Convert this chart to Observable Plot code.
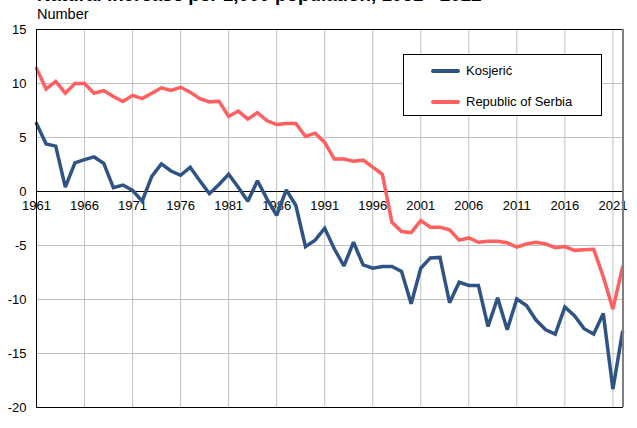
<!DOCTYPE html>
<html><head><meta charset="utf-8">
<script src="https://cdn.jsdelivr.net/npm/d3@7"></script>
<script src="https://cdn.jsdelivr.net/npm/@observablehq/plot@0.6"></script>
<style>
body{margin:0;background:#fff;font-family:"Liberation Sans",Arial,sans-serif;}
#wrap{position:relative;width:637px;height:428px;overflow:hidden;}
#title{position:absolute;left:37px;top:-14px;font-size:18.8px;line-height:1;font-weight:bold;color:#000;white-space:nowrap;}
#sub{position:absolute;left:37px;top:7px;font-size:14.5px;line-height:1;color:#000;}
#legend{position:absolute;left:403px;top:54px;width:199px;height:62px;border:1px solid #000;background:#fff;box-sizing:border-box;font-size:13px;}
.li{position:absolute;left:27px;display:flex;align-items:center;}
.sw{width:29px;height:4px;margin-right:6px;border-radius:2px;}
</style></head>
<body><div id="wrap">
<div id="chart"></div>
<div id="title">Natural increase per 1,000 population, 1961 - 2022</div>
<div id="sub">Number</div>
<div id="legend">
<div class="li" style="top:8px"><div class="sw" style="background:#2E5384"></div><span>Kosjerić</span></div>
<div class="li" style="top:39px"><div class="sw" style="background:#FF5F5F"></div><span>Republic of Serbia</span></div>
</div>
</div>
<script>
const years = d3.range(1961, 2023);
const kosjeric = [6.3,4.4,4.2,0.4,2.65,2.95,3.2,2.6,0.35,0.6,0.1,-0.9,1.4,2.55,1.9,1.5,2.25,1.0,-0.2,0.65,
  1.6,0.4,-0.9,1.0,-0.7,-2.2,0.15,-1.3,-5.1,-4.5,-3.4,-5.3,-6.9,-4.7,-6.8,-7.1,-6.95,-6.95,-7.4,-10.4,
  -7.1,-6.15,-6.1,-10.3,-8.4,-8.7,-8.7,-12.5,-9.85,-12.8,-9.95,-10.55,-11.9,-12.8,-13.2,-10.7,-11.5,-12.7,-13.2,-11.3,
  -18.3,-13.0];
const serbia = [11.4,9.5,10.2,9.1,10.0,10.0,9.1,9.35,8.8,8.33,8.9,8.6,9.1,9.6,9.35,9.65,9.2,8.6,8.3,8.35,
  6.95,7.45,6.7,7.3,6.55,6.2,6.3,6.3,5.1,5.4,4.55,3.0,3.0,2.8,2.9,2.25,1.6,-2.85,-3.7,-3.8,
  -2.7,-3.3,-3.3,-3.55,-4.5,-4.3,-4.7,-4.6,-4.6,-4.75,-5.15,-4.85,-4.7,-4.85,-5.2,-5.1,-5.45,-5.4,-5.35,-7.9,
  -10.9,-7.0];
const xTicks = d3.range(1961, 2022, 5);
const yTicks = [-20,-15,-10,-5,0,5,10,15];
const seriesNames = ["Kosjerić","Republic of Serbia"];
const colors = ["#2E5384","#FF5F5F"];

const data = [];
years.forEach((y,i)=>{
  data.push({year:y, value:kosjeric[i], series:seriesNames[0]});
  data.push({year:y, value:serbia[i], series:seriesNames[1]});
});

const chart = Plot.plot({
  width:637, height:428,
  marginLeft:36, marginRight:15, marginTop:29, marginBottom:21,
  style:{fontFamily:'"Liberation Sans",Arial,sans-serif', fontSize:"13px", color:"#000", background:"transparent"},
  x:{domain:[1961,2022], axis:null},
  y:{domain:[-20,15], ticks:yTicks, label:null},
  color:{domain:seriesNames, range:colors},
  marks:[
    Plot.ruleX(xTicks, {stroke:"#c0c0c0", strokeWidth:1}),
    Plot.ruleY(yTicks.filter(d=>d!==0), {stroke:"#c0c0c0", strokeWidth:1}),
    Plot.ruleY([0], {stroke:"#000", strokeWidth:1}),
    Plot.axisY(yTicks, {tickSize:0, tickPadding:10, fontSize:13, label:null, tickFormat:d=>String(d)}),
    Plot.text(xTicks, {x:d=>d, y:0, dy:14, text:d=>String(d), fontSize:13, fill:"#000"}),
    Plot.line(data, {x:"year", y:"value", z:"series", stroke:"series", strokeWidth:3.5, strokeLinejoin:"miter", strokeMiterlimit:2}),
    Plot.frame({stroke:"#000", strokeWidth:1}),
    Plot.ruleX([2022], {stroke:"#808080", strokeWidth:2, dx:0.5})
  ]
});
document.getElementById("chart").appendChild(chart);
</script>
</body></html>
